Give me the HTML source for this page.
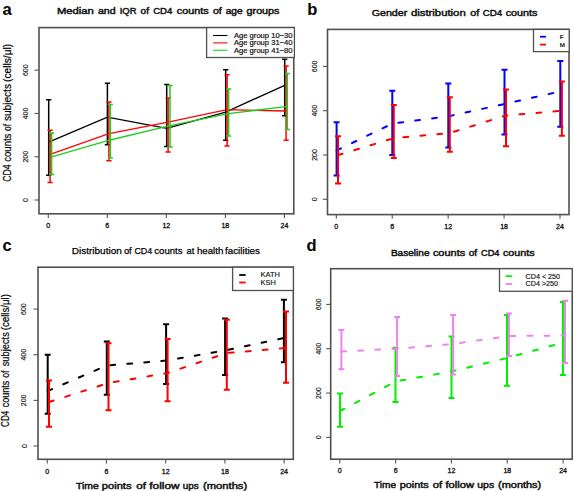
<!DOCTYPE html><html><head><meta charset="utf-8"><style>html,body{margin:0;padding:0;background:#fff;}svg{display:block;}text{font-family:"Liberation Sans",sans-serif;}</style></head><body>
<svg width="574" height="491" viewBox="0 0 574 491">
<rect width="574" height="491" fill="#fff"/>
<text x="2.4" y="15" font-size="16.5" font-weight="bold" fill="#000">a</text>
<text x="307.2" y="15" font-size="16.5" font-weight="bold" fill="#000">b</text>
<text x="2.4" y="251.2" font-size="16.5" font-weight="bold" fill="#000">c</text>
<text x="306.6" y="250.9" font-size="16.5" font-weight="bold" fill="#000">d</text>
<text x="56.90" y="14.1" font-size="9.0" font-weight="normal" fill="#111" stroke="#111" stroke-width="0.45" textLength="37.01" lengthAdjust="spacingAndGlyphs">Median</text>
<text x="97.90" y="14.1" font-size="9.0" font-weight="normal" fill="#111" stroke="#111" stroke-width="0.45" textLength="17.71" lengthAdjust="spacingAndGlyphs">and</text>
<text x="119.70" y="14.1" font-size="9.0" font-weight="normal" fill="#111" stroke="#111" stroke-width="0.45" textLength="16.78" lengthAdjust="spacingAndGlyphs">IQR</text>
<text x="140.60" y="14.1" font-size="9.0" font-weight="normal" fill="#111" stroke="#111" stroke-width="0.45" textLength="8.34" lengthAdjust="spacingAndGlyphs">of</text>
<text x="153.20" y="14.1" font-size="9.0" font-weight="normal" fill="#111" stroke="#111" stroke-width="0.45" textLength="19.11" lengthAdjust="spacingAndGlyphs">CD4</text>
<text x="176.80" y="14.1" font-size="9.0" font-weight="normal" fill="#111" stroke="#111" stroke-width="0.45" textLength="31.80" lengthAdjust="spacingAndGlyphs">counts</text>
<text x="212.90" y="14.1" font-size="9.0" font-weight="normal" fill="#111" stroke="#111" stroke-width="0.45" textLength="8.81" lengthAdjust="spacingAndGlyphs">of</text>
<text x="225.70" y="14.1" font-size="9.0" font-weight="normal" fill="#111" stroke="#111" stroke-width="0.45" textLength="16.91" lengthAdjust="spacingAndGlyphs">age</text>
<text x="246.60" y="14.1" font-size="9.0" font-weight="normal" fill="#111" stroke="#111" stroke-width="0.45" textLength="32.80" lengthAdjust="spacingAndGlyphs">groups</text>
<text x="371.70" y="16.2" font-size="9.4" font-weight="normal" fill="#111" stroke="#111" stroke-width="0.45" textLength="35.64" lengthAdjust="spacingAndGlyphs">Gender</text>
<text x="410.90" y="16.2" font-size="9.4" font-weight="normal" fill="#111" stroke="#111" stroke-width="0.45" textLength="54.86" lengthAdjust="spacingAndGlyphs">distribution</text>
<text x="470.20" y="16.2" font-size="9.4" font-weight="normal" fill="#111" stroke="#111" stroke-width="0.45" textLength="8.95" lengthAdjust="spacingAndGlyphs">of</text>
<text x="482.70" y="16.2" font-size="9.4" font-weight="normal" fill="#111" stroke="#111" stroke-width="0.45" textLength="19.52" lengthAdjust="spacingAndGlyphs">CD4</text>
<text x="505.70" y="16.2" font-size="9.4" font-weight="normal" fill="#111" stroke="#111" stroke-width="0.45" textLength="31.74" lengthAdjust="spacingAndGlyphs">counts</text>
<text x="71.70" y="253.9" font-size="9.9" font-weight="normal" fill="#000" stroke="#000" stroke-width="0.25" textLength="50.10" lengthAdjust="spacingAndGlyphs">Distribution</text>
<text x="123.90" y="253.9" font-size="9.9" font-weight="normal" fill="#000" stroke="#000" stroke-width="0.25" textLength="7.86" lengthAdjust="spacingAndGlyphs">of</text>
<text x="134.40" y="253.9" font-size="9.9" font-weight="normal" fill="#000" stroke="#000" stroke-width="0.25" textLength="17.84" lengthAdjust="spacingAndGlyphs">CD4</text>
<text x="154.30" y="253.9" font-size="9.9" font-weight="normal" fill="#000" stroke="#000" stroke-width="0.25" textLength="28.14" lengthAdjust="spacingAndGlyphs">counts</text>
<text x="186.50" y="253.9" font-size="9.9" font-weight="normal" fill="#000" stroke="#000" stroke-width="0.25" textLength="7.86" lengthAdjust="spacingAndGlyphs">at</text>
<text x="196.90" y="253.9" font-size="9.9" font-weight="normal" fill="#000" stroke="#000" stroke-width="0.25" textLength="26.48" lengthAdjust="spacingAndGlyphs">health</text>
<text x="225.00" y="253.9" font-size="9.9" font-weight="normal" fill="#000" stroke="#000" stroke-width="0.25" textLength="34.94" lengthAdjust="spacingAndGlyphs">facilities</text>
<text x="390.90" y="255.9" font-size="9.4" font-weight="normal" fill="#111" stroke="#111" stroke-width="0.45" textLength="38.63" lengthAdjust="spacingAndGlyphs">Baseline</text>
<text x="432.90" y="255.9" font-size="9.4" font-weight="normal" fill="#111" stroke="#111" stroke-width="0.45" textLength="32.33" lengthAdjust="spacingAndGlyphs">counts</text>
<text x="468.70" y="255.9" font-size="9.4" font-weight="normal" fill="#111" stroke="#111" stroke-width="0.45" textLength="8.47" lengthAdjust="spacingAndGlyphs">of</text>
<text x="481.00" y="255.9" font-size="9.4" font-weight="normal" fill="#111" stroke="#111" stroke-width="0.45" textLength="18.51" lengthAdjust="spacingAndGlyphs">CD4</text>
<text x="503.00" y="255.9" font-size="9.4" font-weight="normal" fill="#111" stroke="#111" stroke-width="0.45" textLength="31.54" lengthAdjust="spacingAndGlyphs">counts</text>
<text x="76.00" y="488.7" font-size="9.0" font-weight="normal" fill="#111" stroke="#111" stroke-width="0.45" textLength="22.71" lengthAdjust="spacingAndGlyphs">Time</text>
<text x="101.80" y="488.7" font-size="9.0" font-weight="normal" fill="#111" stroke="#111" stroke-width="0.45" textLength="29.68" lengthAdjust="spacingAndGlyphs">points</text>
<text x="136.30" y="488.7" font-size="9.0" font-weight="normal" fill="#111" stroke="#111" stroke-width="0.45" textLength="9.75" lengthAdjust="spacingAndGlyphs">of</text>
<text x="149.30" y="488.7" font-size="9.0" font-weight="normal" fill="#111" stroke="#111" stroke-width="0.45" textLength="30.24" lengthAdjust="spacingAndGlyphs">follow</text>
<text x="182.80" y="488.7" font-size="9.0" font-weight="normal" fill="#111" stroke="#111" stroke-width="0.45" textLength="15.95" lengthAdjust="spacingAndGlyphs">ups</text>
<text x="203.10" y="488.7" font-size="9.0" font-weight="normal" fill="#111" stroke="#111" stroke-width="0.45" textLength="44.10" lengthAdjust="spacingAndGlyphs">(months)</text>
<text x="374.00" y="488.2" font-size="9.0" font-weight="normal" fill="#111" stroke="#111" stroke-width="0.45" textLength="22.11" lengthAdjust="spacingAndGlyphs">Time</text>
<text x="399.80" y="488.2" font-size="9.0" font-weight="normal" fill="#111" stroke="#111" stroke-width="0.45" textLength="28.80" lengthAdjust="spacingAndGlyphs">points</text>
<text x="432.80" y="488.2" font-size="9.0" font-weight="normal" fill="#111" stroke="#111" stroke-width="0.45" textLength="9.38" lengthAdjust="spacingAndGlyphs">of</text>
<text x="445.40" y="488.2" font-size="9.0" font-weight="normal" fill="#111" stroke="#111" stroke-width="0.45" textLength="28.58" lengthAdjust="spacingAndGlyphs">follow</text>
<text x="477.30" y="488.2" font-size="9.0" font-weight="normal" fill="#111" stroke="#111" stroke-width="0.45" textLength="16.82" lengthAdjust="spacingAndGlyphs">ups</text>
<text x="498.10" y="488.2" font-size="9.0" font-weight="normal" fill="#111" stroke="#111" stroke-width="0.45" textLength="43.10" lengthAdjust="spacingAndGlyphs">(months)</text>
<g transform="translate(10.6,181.7) rotate(-90)"><text x="0.00" y="0" font-size="11" font-weight="normal" fill="#000" stroke="#000" stroke-width="0.2" textLength="17.19" lengthAdjust="spacingAndGlyphs">CD4</text><text x="20.00" y="0" font-size="11" font-weight="normal" fill="#000" stroke="#000" stroke-width="0.2" textLength="28.07" lengthAdjust="spacingAndGlyphs">counts</text><text x="50.80" y="0" font-size="11" font-weight="normal" fill="#000" stroke="#000" stroke-width="0.2" textLength="7.07" lengthAdjust="spacingAndGlyphs">of</text><text x="60.60" y="0" font-size="11" font-weight="normal" fill="#000" stroke="#000" stroke-width="0.2" textLength="37.04" lengthAdjust="spacingAndGlyphs">subjects</text><text x="99.70" y="0" font-size="11" font-weight="normal" fill="#000" stroke="#000" stroke-width="0.2" textLength="38.22" lengthAdjust="spacingAndGlyphs">(cells/μl)</text></g>
<g transform="translate(9.0,426.9) rotate(-90)"><text x="0.00" y="0" font-size="10.8" font-weight="normal" fill="#000" stroke="#000" stroke-width="0.2" textLength="16.20" lengthAdjust="spacingAndGlyphs">CD4</text><text x="19.70" y="0" font-size="10.8" font-weight="normal" fill="#000" stroke="#000" stroke-width="0.2" textLength="26.60" lengthAdjust="spacingAndGlyphs">counts</text><text x="49.10" y="0" font-size="10.8" font-weight="normal" fill="#000" stroke="#000" stroke-width="0.2" textLength="7.38" lengthAdjust="spacingAndGlyphs">of</text><text x="60.60" y="0" font-size="10.8" font-weight="normal" fill="#000" stroke="#000" stroke-width="0.2" textLength="34.08" lengthAdjust="spacingAndGlyphs">subjects</text><text x="96.70" y="0" font-size="10.8" font-weight="normal" fill="#000" stroke="#000" stroke-width="0.2" textLength="36.13" lengthAdjust="spacingAndGlyphs">(cells/μl)</text></g>
<rect x="39" y="27.6" width="254.80" height="186.20" fill="none" stroke="#505050" stroke-width="1.6"/>
<line x1="34.5" y1="200.0" x2="39" y2="200.0" stroke="#555" stroke-width="1.1"/>
<text x="28.3" y="200.0" transform="rotate(-90 28.3 200.0)" font-size="7" text-anchor="middle" fill="#111" stroke="#111" stroke-width="0.15">0</text>
<line x1="34.5" y1="156.73" x2="39" y2="156.73" stroke="#555" stroke-width="1.1"/>
<text x="28.3" y="156.73" transform="rotate(-90 28.3 156.73)" font-size="7" text-anchor="middle" fill="#111" stroke="#111" stroke-width="0.15">200</text>
<line x1="34.5" y1="113.47" x2="39" y2="113.47" stroke="#555" stroke-width="1.1"/>
<text x="28.3" y="113.47" transform="rotate(-90 28.3 113.47)" font-size="7" text-anchor="middle" fill="#111" stroke="#111" stroke-width="0.15">400</text>
<line x1="34.5" y1="70.2" x2="39" y2="70.2" stroke="#555" stroke-width="1.1"/>
<text x="28.3" y="70.2" transform="rotate(-90 28.3 70.2)" font-size="7" text-anchor="middle" fill="#111" stroke="#111" stroke-width="0.15">600</text>
<line x1="48.3" y1="213.8" x2="48.3" y2="218.0" stroke="#555" stroke-width="1.1"/>
<text x="48.3" y="228" font-size="7" text-anchor="middle" fill="#111" stroke="#111" stroke-width="0.3">0</text>
<line x1="107.32" y1="213.8" x2="107.32" y2="218.0" stroke="#555" stroke-width="1.1"/>
<text x="107.32" y="228" font-size="7" text-anchor="middle" fill="#111" stroke="#111" stroke-width="0.3">6</text>
<line x1="166.35" y1="213.8" x2="166.35" y2="218.0" stroke="#555" stroke-width="1.1"/>
<text x="166.35" y="228" font-size="7" text-anchor="middle" fill="#111" stroke="#111" stroke-width="0.3">12</text>
<line x1="225.38" y1="213.8" x2="225.38" y2="218.0" stroke="#555" stroke-width="1.1"/>
<text x="225.38" y="228" font-size="7" text-anchor="middle" fill="#111" stroke="#111" stroke-width="0.3">18</text>
<line x1="284.4" y1="213.8" x2="284.4" y2="218.0" stroke="#555" stroke-width="1.1"/>
<text x="284.4" y="228" font-size="7" text-anchor="middle" fill="#111" stroke="#111" stroke-width="0.3">24</text>
<polyline points="48.7,142.1 107.4,117.1 166.7,128.3 225.7,112.1 284.7,85.3" fill="none" stroke="#000" stroke-width="1.3"/>
<path d="M48.7,99.8V175.3M46.10,99.8H51.30M46.10,175.3H51.30" stroke="#000" stroke-width="1.5" fill="none"/>
<path d="M107.4,83.3V144.7M104.80,83.3H110.00M104.80,144.7H110.00" stroke="#000" stroke-width="1.5" fill="none"/>
<path d="M166.7,84.4V146.4M164.10,84.4H169.30M164.10,146.4H169.30" stroke="#000" stroke-width="1.5" fill="none"/>
<path d="M225.7,69.7V140.3M223.10,69.7H228.30M223.10,140.3H228.30" stroke="#000" stroke-width="1.5" fill="none"/>
<path d="M284.7,59.3V115.8M282.10,59.3H287.30M282.10,115.8H287.30" stroke="#000" stroke-width="1.5" fill="none"/>
<polyline points="50.1,154.3 108.9,133.6 168.1,122.1 227.1,109.7 286.1,111" fill="none" stroke="#ff0000" stroke-width="1.3"/>
<path d="M50.1,130.3V182.4M47.50,130.3H52.70M47.50,182.4H52.70" stroke="#ff0000" stroke-width="1.5" fill="none"/>
<path d="M108.9,101.9V160.7M106.30,101.9H111.50M106.30,160.7H111.50" stroke="#ff0000" stroke-width="1.5" fill="none"/>
<path d="M168.1,98.1V151.9M165.50,98.1H170.70M165.50,151.9H170.70" stroke="#ff0000" stroke-width="1.5" fill="none"/>
<path d="M227.1,74.7V146M224.50,74.7H229.70M224.50,146H229.70" stroke="#ff0000" stroke-width="1.5" fill="none"/>
<path d="M286.1,66.1V140.3M283.50,66.1H288.70M283.50,140.3H288.70" stroke="#ff0000" stroke-width="1.5" fill="none"/>
<polyline points="51.6,156.9 110.3,140 170,125.7 228.6,113.6 287.3,106.4" fill="none" stroke="#1fcf1f" stroke-width="1.3"/>
<path d="M51.6,133.1V174.6M49.00,133.1H54.20M49.00,174.6H54.20" stroke="#1fcf1f" stroke-width="1.5" fill="none"/>
<path d="M110.3,104.6V158.1M107.70,104.6H112.90M107.70,158.1H112.90" stroke="#1fcf1f" stroke-width="1.5" fill="none"/>
<path d="M170,85.4V146.9M167.40,85.4H172.60M167.40,146.9H172.60" stroke="#1fcf1f" stroke-width="1.5" fill="none"/>
<path d="M228.6,89V136.1M226.00,89H231.20M226.00,136.1H231.20" stroke="#1fcf1f" stroke-width="1.5" fill="none"/>
<path d="M287.3,73.6V129.6M284.70,73.6H289.90M284.70,129.6H289.90" stroke="#1fcf1f" stroke-width="1.5" fill="none"/>
<rect x="206.6" y="27.6" width="87.80" height="29.90" fill="#fff" stroke="#505050" stroke-width="1.3"/>
<line x1="213.1" y1="35.5" x2="227.5" y2="35.5" stroke="#000" stroke-width="1.1"/>
<text x="234" y="37.8" font-size="7.2" fill="#111" stroke="#111" stroke-width="0.2" textLength="58.5" lengthAdjust="spacingAndGlyphs">Age group 10−30</text>
<line x1="213.1" y1="42.9" x2="227.5" y2="42.9" stroke="#ff0000" stroke-width="1.1"/>
<text x="234" y="45.199999999999996" font-size="7.2" fill="#111" stroke="#111" stroke-width="0.2" textLength="58.5" lengthAdjust="spacingAndGlyphs">Age group 31−40</text>
<line x1="213.1" y1="50.3" x2="227.5" y2="50.3" stroke="#1fcf1f" stroke-width="1.1"/>
<text x="234" y="52.599999999999994" font-size="7.2" fill="#111" stroke="#111" stroke-width="0.2" textLength="58.5" lengthAdjust="spacingAndGlyphs">Age group 41−80</text>
<rect x="327.5" y="29.4" width="241.50" height="185.20" fill="none" stroke="#505050" stroke-width="1.6"/>
<line x1="323.0" y1="199.3" x2="327.5" y2="199.3" stroke="#555" stroke-width="1.1"/>
<text x="316.8" y="199.3" transform="rotate(-90 316.8 199.3)" font-size="7" text-anchor="middle" fill="#111" stroke="#111" stroke-width="0.15">0</text>
<line x1="323.0" y1="155.0" x2="327.5" y2="155.0" stroke="#555" stroke-width="1.1"/>
<text x="316.8" y="155.0" transform="rotate(-90 316.8 155.0)" font-size="7" text-anchor="middle" fill="#111" stroke="#111" stroke-width="0.15">200</text>
<line x1="323.0" y1="110.7" x2="327.5" y2="110.7" stroke="#555" stroke-width="1.1"/>
<text x="316.8" y="110.7" transform="rotate(-90 316.8 110.7)" font-size="7" text-anchor="middle" fill="#111" stroke="#111" stroke-width="0.15">400</text>
<line x1="323.0" y1="66.4" x2="327.5" y2="66.4" stroke="#555" stroke-width="1.1"/>
<text x="316.8" y="66.4" transform="rotate(-90 316.8 66.4)" font-size="7" text-anchor="middle" fill="#111" stroke="#111" stroke-width="0.15">600</text>
<line x1="336.3" y1="214.6" x2="336.3" y2="218.79999999999998" stroke="#555" stroke-width="1.1"/>
<text x="336.3" y="228.6" font-size="7" text-anchor="middle" fill="#111" stroke="#111" stroke-width="0.3">0</text>
<line x1="392.23" y1="214.6" x2="392.23" y2="218.79999999999998" stroke="#555" stroke-width="1.1"/>
<text x="392.23" y="228.6" font-size="7" text-anchor="middle" fill="#111" stroke="#111" stroke-width="0.3">6</text>
<line x1="448.15" y1="214.6" x2="448.15" y2="218.79999999999998" stroke="#555" stroke-width="1.1"/>
<text x="448.15" y="228.6" font-size="7" text-anchor="middle" fill="#111" stroke="#111" stroke-width="0.3">12</text>
<line x1="504.07" y1="214.6" x2="504.07" y2="218.79999999999998" stroke="#555" stroke-width="1.1"/>
<text x="504.07" y="228.6" font-size="7" text-anchor="middle" fill="#111" stroke="#111" stroke-width="0.3">18</text>
<line x1="560.0" y1="214.6" x2="560.0" y2="218.79999999999998" stroke="#555" stroke-width="1.1"/>
<text x="560.0" y="228.6" font-size="7" text-anchor="middle" fill="#111" stroke="#111" stroke-width="0.3">24</text>
<polyline points="336.6,150.5 392.3,123.6 448.3,116.3 504.5,104 560.3,91.5" fill="none" stroke="#0000ff" stroke-width="2" stroke-dasharray="4.8 12.2" stroke-linecap="round"/>
<path d="M336.6,122.3V175.5M333.60,122.3H339.60M333.60,175.5H339.60" stroke="#0000ff" stroke-width="2" fill="none"/>
<path d="M392.3,90.7V154.9M389.30,90.7H395.30M389.30,154.9H395.30" stroke="#0000ff" stroke-width="2" fill="none"/>
<path d="M448.3,83.6V147.6M445.30,83.6H451.30M445.30,147.6H451.30" stroke="#0000ff" stroke-width="2" fill="none"/>
<path d="M504.5,69.7V134.5M501.50,69.7H507.50M501.50,134.5H507.50" stroke="#0000ff" stroke-width="2" fill="none"/>
<path d="M560.3,61V126.7M557.30,61H563.30M557.30,126.7H563.30" stroke="#0000ff" stroke-width="2" fill="none"/>
<polyline points="338,155.1 393.8,138.2 449.8,133 506,115.5 561.9,110.8" fill="none" stroke="#ff0000" stroke-width="2" stroke-dasharray="4.8 12.2" stroke-linecap="round"/>
<path d="M338,136.2V183.4M335.00,136.2H341.00M335.00,183.4H341.00" stroke="#ff0000" stroke-width="2" fill="none"/>
<path d="M393.8,104.9V157.9M390.80,104.9H396.80M390.80,157.9H396.80" stroke="#ff0000" stroke-width="2" fill="none"/>
<path d="M449.8,97.2V151.8M446.80,97.2H452.80M446.80,151.8H452.80" stroke="#ff0000" stroke-width="2" fill="none"/>
<path d="M506,89.5V146.2M503.00,89.5H509.00M503.00,146.2H509.00" stroke="#ff0000" stroke-width="2" fill="none"/>
<path d="M561.9,81.5V135.7M558.90,81.5H564.90M558.90,135.7H564.90" stroke="#ff0000" stroke-width="2" fill="none"/>
<rect x="533.5" y="29.4" width="35.70" height="22.20" fill="#fff" stroke="#505050" stroke-width="1.3"/>
<line x1="540" y1="36.7" x2="546" y2="36.7" stroke="#0000ff" stroke-width="1.8"/>
<text x="559.8" y="38.900000000000006" font-size="6.2" fill="#000" stroke="#000" stroke-width="0.2">F</text>
<line x1="540" y1="44.6" x2="546" y2="44.6" stroke="#ff0000" stroke-width="1.8"/>
<text x="559.8" y="46.800000000000004" font-size="6.2" fill="#000" stroke="#000" stroke-width="0.2">M</text>
<rect x="38" y="267.2" width="255.30" height="192.10" fill="none" stroke="#505050" stroke-width="1.6"/>
<line x1="33.5" y1="446.0" x2="38" y2="446.0" stroke="#555" stroke-width="1.1"/>
<text x="26.5" y="446.0" transform="rotate(-90 26.5 446.0)" font-size="7" text-anchor="middle" fill="#111" stroke="#111" stroke-width="0.15">0</text>
<line x1="33.5" y1="400.37" x2="38" y2="400.37" stroke="#555" stroke-width="1.1"/>
<text x="26.5" y="400.37" transform="rotate(-90 26.5 400.37)" font-size="7" text-anchor="middle" fill="#111" stroke="#111" stroke-width="0.15">200</text>
<line x1="33.5" y1="354.73" x2="38" y2="354.73" stroke="#555" stroke-width="1.1"/>
<text x="26.5" y="354.73" transform="rotate(-90 26.5 354.73)" font-size="7" text-anchor="middle" fill="#111" stroke="#111" stroke-width="0.15">400</text>
<line x1="33.5" y1="309.1" x2="38" y2="309.1" stroke="#555" stroke-width="1.1"/>
<text x="26.5" y="309.1" transform="rotate(-90 26.5 309.1)" font-size="7" text-anchor="middle" fill="#111" stroke="#111" stroke-width="0.15">600</text>
<line x1="47.3" y1="459.3" x2="47.3" y2="463.5" stroke="#555" stroke-width="1.1"/>
<text x="47.3" y="473.8" font-size="7" text-anchor="middle" fill="#111" stroke="#111" stroke-width="0.3">0</text>
<line x1="106.5" y1="459.3" x2="106.5" y2="463.5" stroke="#555" stroke-width="1.1"/>
<text x="106.5" y="473.8" font-size="7" text-anchor="middle" fill="#111" stroke="#111" stroke-width="0.3">6</text>
<line x1="165.7" y1="459.3" x2="165.7" y2="463.5" stroke="#555" stroke-width="1.1"/>
<text x="165.7" y="473.8" font-size="7" text-anchor="middle" fill="#111" stroke="#111" stroke-width="0.3">12</text>
<line x1="224.9" y1="459.3" x2="224.9" y2="463.5" stroke="#555" stroke-width="1.1"/>
<text x="224.9" y="473.8" font-size="7" text-anchor="middle" fill="#111" stroke="#111" stroke-width="0.3">18</text>
<line x1="284.1" y1="459.3" x2="284.1" y2="463.5" stroke="#555" stroke-width="1.1"/>
<text x="284.1" y="473.8" font-size="7" text-anchor="middle" fill="#111" stroke="#111" stroke-width="0.3">24</text>
<polyline points="47.7,391 106.8,365.5 166.1,360.6 225.1,350.5 283.9,338" fill="none" stroke="#000" stroke-width="2" stroke-dasharray="4.8 12.2" stroke-linecap="round"/>
<path d="M47.7,354.7V413.8M44.70,354.7H50.70M44.70,413.8H50.70" stroke="#000" stroke-width="2" fill="none"/>
<path d="M106.8,341.4V394.7M103.80,341.4H109.80M103.80,394.7H109.80" stroke="#000" stroke-width="2" fill="none"/>
<path d="M166.1,324.2V384.1M163.10,324.2H169.10M163.10,384.1H169.10" stroke="#000" stroke-width="2" fill="none"/>
<path d="M225.1,318.5V375.1M222.10,318.5H228.10M222.10,375.1H228.10" stroke="#000" stroke-width="2" fill="none"/>
<path d="M283.9,299.8V362.2M280.90,299.8H286.90M280.90,362.2H286.90" stroke="#000" stroke-width="2" fill="none"/>
<polyline points="49,402 108.5,383 167.6,373 226.8,353 286,348" fill="none" stroke="#ff0000" stroke-width="2" stroke-dasharray="4.8 12.2" stroke-linecap="round"/>
<path d="M49,380.6V426.7M46.00,380.6H52.00M46.00,426.7H52.00" stroke="#ff0000" stroke-width="2" fill="none"/>
<path d="M108.5,343.2V410.3M105.50,343.2H111.50M105.50,410.3H111.50" stroke="#ff0000" stroke-width="2" fill="none"/>
<path d="M167.6,339.1V401.2M164.60,339.1H170.60M164.60,401.2H170.60" stroke="#ff0000" stroke-width="2" fill="none"/>
<path d="M226.8,319.8V389.8M223.80,319.8H229.80M223.80,389.8H229.80" stroke="#ff0000" stroke-width="2" fill="none"/>
<path d="M286,311.4V382.8M283.00,311.4H289.00M283.00,382.8H289.00" stroke="#ff0000" stroke-width="2" fill="none"/>
<rect x="232.6" y="267.2" width="60.80" height="23.30" fill="#fff" stroke="#505050" stroke-width="1.3"/>
<line x1="239.2" y1="275" x2="245.7" y2="275" stroke="#000" stroke-width="1.8"/>
<text x="260.6" y="277.4" font-size="7.4" fill="#111" stroke="#111" stroke-width="0.15" textLength="19.2" lengthAdjust="spacingAndGlyphs">KATH</text>
<line x1="239.2" y1="282.5" x2="245.7" y2="282.5" stroke="#ff0000" stroke-width="1.8"/>
<text x="260.6" y="284.9" font-size="7.4" fill="#111" stroke="#111" stroke-width="0.15" textLength="15.2" lengthAdjust="spacingAndGlyphs">KSH</text>
<rect x="330.7" y="268.7" width="241.50" height="190.50" fill="none" stroke="#505050" stroke-width="1.6"/>
<line x1="326.2" y1="437.4" x2="330.7" y2="437.4" stroke="#555" stroke-width="1.1"/>
<text x="321.1" y="437.4" transform="rotate(-90 321.1 437.4)" font-size="7" text-anchor="middle" fill="#111" stroke="#111" stroke-width="0.15">0</text>
<line x1="326.2" y1="393.07" x2="330.7" y2="393.07" stroke="#555" stroke-width="1.1"/>
<text x="321.1" y="393.07" transform="rotate(-90 321.1 393.07)" font-size="7" text-anchor="middle" fill="#111" stroke="#111" stroke-width="0.15">200</text>
<line x1="326.2" y1="348.73" x2="330.7" y2="348.73" stroke="#555" stroke-width="1.1"/>
<text x="321.1" y="348.73" transform="rotate(-90 321.1 348.73)" font-size="7" text-anchor="middle" fill="#111" stroke="#111" stroke-width="0.15">400</text>
<line x1="326.2" y1="304.4" x2="330.7" y2="304.4" stroke="#555" stroke-width="1.1"/>
<text x="321.1" y="304.4" transform="rotate(-90 321.1 304.4)" font-size="7" text-anchor="middle" fill="#111" stroke="#111" stroke-width="0.15">600</text>
<line x1="339.8" y1="459.2" x2="339.8" y2="463.4" stroke="#555" stroke-width="1.1"/>
<text x="339.8" y="473.1" font-size="7" text-anchor="middle" fill="#111" stroke="#111" stroke-width="0.3">0</text>
<line x1="395.62" y1="459.2" x2="395.62" y2="463.4" stroke="#555" stroke-width="1.1"/>
<text x="395.62" y="473.1" font-size="7" text-anchor="middle" fill="#111" stroke="#111" stroke-width="0.3">6</text>
<line x1="451.45" y1="459.2" x2="451.45" y2="463.4" stroke="#555" stroke-width="1.1"/>
<text x="451.45" y="473.1" font-size="7" text-anchor="middle" fill="#111" stroke="#111" stroke-width="0.3">12</text>
<line x1="507.28" y1="459.2" x2="507.28" y2="463.4" stroke="#555" stroke-width="1.1"/>
<text x="507.28" y="473.1" font-size="7" text-anchor="middle" fill="#111" stroke="#111" stroke-width="0.3">18</text>
<line x1="563.1" y1="459.2" x2="563.1" y2="463.4" stroke="#555" stroke-width="1.1"/>
<text x="563.1" y="473.1" font-size="7" text-anchor="middle" fill="#111" stroke="#111" stroke-width="0.3">24</text>
<polyline points="340,411 395.5,381.5 451.5,371.5 507,358 562.9,342.5" fill="none" stroke="#00ee00" stroke-width="2" stroke-dasharray="4.8 12.2" stroke-linecap="round"/>
<path d="M340,393.6V426.7M337.00,393.6H343.00M337.00,426.7H343.00" stroke="#00ee00" stroke-width="2" fill="none"/>
<path d="M395.5,348.1V402M392.50,348.1H398.50M392.50,402H398.50" stroke="#00ee00" stroke-width="2" fill="none"/>
<path d="M451.5,336.6V398.1M448.50,336.6H454.50M448.50,398.1H454.50" stroke="#00ee00" stroke-width="2" fill="none"/>
<path d="M507,315V385.7M504.00,315H510.00M504.00,385.7H510.00" stroke="#00ee00" stroke-width="2" fill="none"/>
<path d="M562.9,302.1V375M559.90,302.1H565.90M559.90,375H565.90" stroke="#00ee00" stroke-width="2" fill="none"/>
<polyline points="341.4,351.5 397.1,348.7 453.1,344 508.9,336 565,335.5" fill="none" stroke="#ee82ee" stroke-width="2" stroke-dasharray="4.8 12.2" stroke-linecap="round"/>
<path d="M341.4,329.9V369.3M338.40,329.9H344.40M338.40,369.3H344.40" stroke="#ee82ee" stroke-width="2" fill="none"/>
<path d="M397.1,317.1V376.1M394.10,317.1H400.10M394.10,376.1H400.10" stroke="#ee82ee" stroke-width="2" fill="none"/>
<path d="M453.1,315.1V374.6M450.10,315.1H456.10M450.10,374.6H456.10" stroke="#ee82ee" stroke-width="2" fill="none"/>
<path d="M508.9,313.6V356.1M505.90,313.6H511.90M505.90,356.1H511.90" stroke="#ee82ee" stroke-width="2" fill="none"/>
<path d="M565,300.7V362.9M562.00,300.7H568.00M562.00,362.9H568.00" stroke="#ee82ee" stroke-width="2" fill="none"/>
<rect x="499.5" y="268.7" width="72.70" height="22.60" fill="#fff" stroke="#505050" stroke-width="1.3"/>
<line x1="505.6" y1="276.2" x2="512.2" y2="276.2" stroke="#00ee00" stroke-width="1.8"/>
<text x="525.6" y="278.5" font-size="6.8" fill="#111" stroke="#111" stroke-width="0.15" textLength="34.5" lengthAdjust="spacingAndGlyphs">CD4 &lt; 250</text>
<line x1="505.6" y1="284" x2="512.2" y2="284" stroke="#ee82ee" stroke-width="1.8"/>
<text x="525.6" y="286.3" font-size="6.8" fill="#111" stroke="#111" stroke-width="0.15" textLength="32.5" lengthAdjust="spacingAndGlyphs">CD4 &gt;250</text>
</svg></body></html>
